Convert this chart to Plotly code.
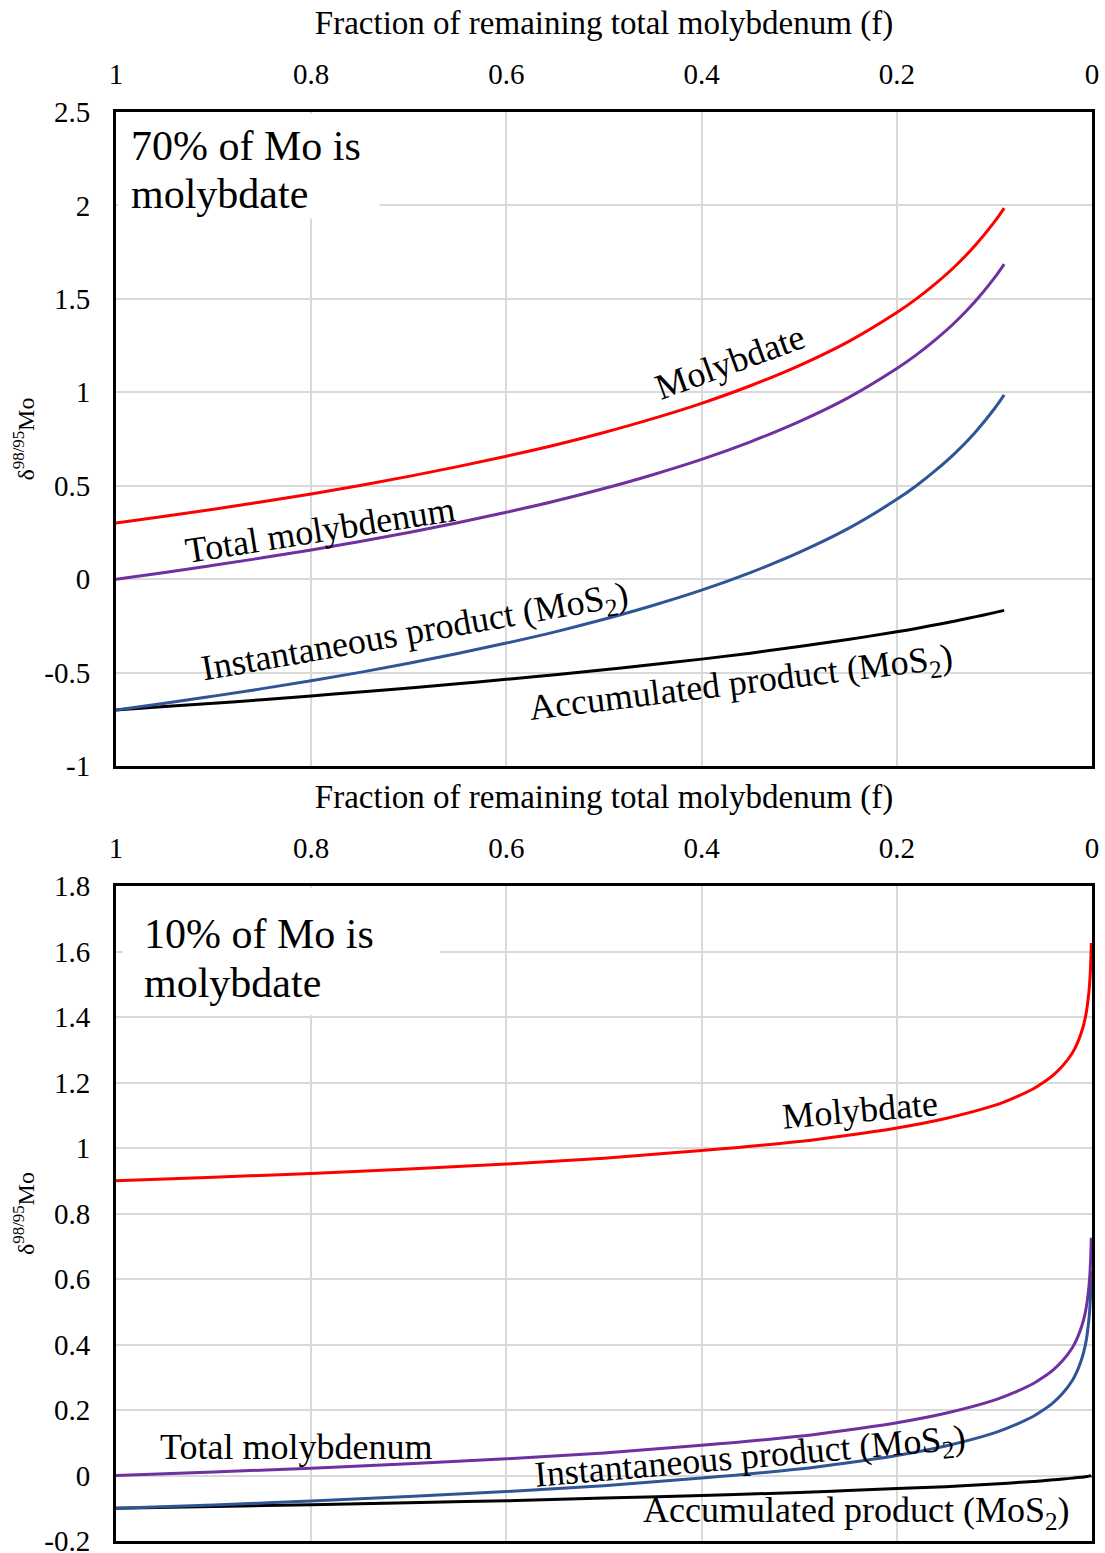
import plotly.graph_objects as go

# ---------------- data ----------------
# Upper panel: 70% of Mo present as molybdate
f_a = [1.0, 0.95, 0.9, 0.85, 0.8, 0.75, 0.7, 0.65, 0.6, 0.55, 0.5, 0.45, 0.4,
       0.35, 0.3, 0.25, 0.2, 0.18, 0.16, 0.14, 0.12, 0.1, 0.09]
molybdate_a = [0.300, 0.336, 0.374, 0.414, 0.456, 0.501, 0.550, 0.602, 0.658, 0.718,
               0.785, 0.859, 0.941, 1.035, 1.143, 1.270, 1.427, 1.500, 1.583, 1.676,
               1.784, 1.912, 1.986]
total_a = [0.000, 0.036, 0.074, 0.114, 0.156, 0.201, 0.250, 0.302, 0.358, 0.418,
           0.485, 0.559, 0.641, 0.735, 0.843, 0.970, 1.127, 1.200, 1.283, 1.376,
           1.484, 1.612, 1.686]
instant_a = [-0.700, -0.664, -0.626, -0.586, -0.544, -0.499, -0.450, -0.398, -0.342,
             -0.282, -0.215, -0.141, -0.059, 0.035, 0.143, 0.270, 0.427, 0.500, 0.583,
             0.676, 0.784, 0.912, 0.986]
accum_a = [-0.700, -0.682, -0.664, -0.645, -0.625, -0.604, -0.583, -0.560, -0.536,
           -0.512, -0.485, -0.457, -0.428, -0.396, -0.361, -0.323, -0.282, -0.264,
           -0.244, -0.224, -0.202, -0.179, -0.167]

# Lower panel: 10% of Mo present as molybdate
f_b = [1.0, 0.9, 0.8, 0.7, 0.6, 0.5, 0.4, 0.3, 0.25, 0.2, 0.15, 0.1, 0.08, 0.06,
       0.05, 0.04, 0.03, 0.02, 0.015, 0.01, 0.007, 0.005, 0.003, 0.002, 0.001, 0.0007]
molybdate_b = [0.900, 0.911, 0.922, 0.936, 0.951, 0.969, 0.992, 1.020, 1.039, 1.061,
               1.090, 1.130, 1.153, 1.181, 1.200, 1.222, 1.251, 1.291, 1.320, 1.361,
               1.396, 1.430, 1.481, 1.522, 1.591, 1.626]
total_b = [0.000, 0.011, 0.022, 0.036, 0.051, 0.069, 0.092, 0.120, 0.139, 0.161,
           0.190, 0.230, 0.253, 0.281, 0.300, 0.322, 0.351, 0.391, 0.420, 0.461,
           0.496, 0.530, 0.581, 0.622, 0.691, 0.726]
instant_b = [-0.100, -0.090, -0.078, -0.064, -0.049, -0.031, -0.008, 0.020, 0.039,
             0.061, 0.090, 0.130, 0.153, 0.181, 0.200, 0.222, 0.251, 0.291, 0.320,
             0.361, 0.396, 0.430, 0.481, 0.522, 0.591, 0.626]
accum_b = [-0.100, -0.095, -0.089, -0.083, -0.077, -0.069, -0.061, -0.052, -0.046,
           -0.040, -0.034, -0.026, -0.022, -0.018, -0.016, -0.013, -0.011, -0.008,
           -0.006, -0.005, -0.004, -0.003, -0.002, -0.001, -0.001, -0.0005]

# tick labels
x_ticks = [1, 0.8, 0.6, 0.4, 0.2, 0]
x_ticktext = ["1", "0.8", "0.6", "0.4", "0.2", "0"]
y_ticks_a = [2.5, 2, 1.5, 1, 0.5, 0, -0.5, -1]
y_ticktext_a = ["2.5", "2", "1.5", "1", "0.5", "0", "-0.5", "-1"]
y_ticks_b = [1.8, 1.6, 1.4, 1.2, 1, 0.8, 0.6, 0.4, 0.2, 0, -0.2]
y_ticktext_b = ["1.8", "1.6", "1.4", "1.2", "1", "0.8", "0.6", "0.4", "0.2", "0", "-0.2"]

x_title = "Fraction of remaining total molybdenum (f)"
y_title = "δ<sup>98/95</sup>Mo"

# ---------------- styling ----------------
FONT = "Liberation Serif, Times New Roman, serif"
RED, PURPLE, BLUE, BLACK = "#ff0000", "#7030a0", "#2f5597", "#000000"
GRID = "#d9d9d9"
W, H = 1105, 1553

fig = go.Figure()


def add_panel(f, moly, total, inst, acc, xa, ya):
    for ys, col in ((acc, BLACK), (inst, BLUE), (total, PURPLE), (moly, RED)):
        fig.add_trace(go.Scatter(x=f, y=ys, mode="lines", xaxis=xa, yaxis=ya,
                                 line=dict(color=col, width=3, shape="spline",
                                           smoothing=1.0),
                                 showlegend=False, hoverinfo="skip"))


add_panel(f_a, molybdate_a, total_a, instant_a, accum_a, "x", "y")
add_panel(f_b, molybdate_b, total_b, instant_b, accum_b, "x2", "y2")

x_dom = [116 / W, 1092 / W]
common_x = dict(range=[1, 0], side="top", tickmode="array", tickvals=x_ticks,
                ticktext=x_ticktext, showgrid=True, gridcolor=GRID, gridwidth=2,
                showline=True, linecolor=BLACK, linewidth=3, mirror=True,
                ticks="outside", ticklen=13, tickcolor="rgba(0,0,0,0)",
                zeroline=False, automargin=False, ticklabeloverflow="allow",
                tickfont=dict(family=FONT, size=29, color=BLACK),
                title=dict(text=x_title, font=dict(family=FONT, size=33, color=BLACK),
                           standoff=14),
                domain=x_dom)
common_y = dict(showgrid=True, gridcolor=GRID, gridwidth=2, showline=True,
                linecolor=BLACK, linewidth=3, mirror=True, ticks="outside",
                ticklen=17, tickcolor="rgba(0,0,0,0)", zeroline=False,
                automargin=False, ticklabeloverflow="allow",
                tickfont=dict(family=FONT, size=29, color=BLACK),
                title=dict(text=y_title, font=dict(family=FONT, size=24, color=BLACK),
                           standoff=3))

fig.update_layout(
    width=W, height=H, margin=dict(l=0, r=0, t=0, b=0, autoexpand=False),
    paper_bgcolor="white", plot_bgcolor="white",
    xaxis=dict(common_x, anchor="y"),
    yaxis=dict(common_y, anchor="x", range=[-1, 2.5], tickmode="array",
               tickvals=y_ticks_a, ticktext=y_ticktext_a,
               domain=[1 - 766 / H, 1 - 112 / H]),
    xaxis2=dict(common_x, anchor="y2"),
    yaxis2=dict(common_y, anchor="x2", range=[-0.2, 1.8], tickmode="array",
                tickvals=y_ticks_b, ticktext=y_ticktext_b,
                domain=[1 - 1541 / H, 1 - 886 / H]),
)

# white boxes behind the panel captions (above gridlines, below curves)
fig.add_shape(type="rect", xref="x", yref="y", x0=0.998, x1=0.73, y0=1.93, y1=2.49,
              fillcolor="white", line=dict(width=0), layer="between")
fig.add_shape(type="rect", xref="x2", yref="y2", x0=0.993, x1=0.668, y0=1.405, y1=1.795,
              fillcolor="white", line=dict(width=0), layer="between")


def caption(text, x, y, xref, yref, size=42):
    fig.add_annotation(text=text, x=x, y=y, xref=xref, yref=yref, showarrow=False,
                       xanchor="left", yanchor="middle",
                       font=dict(family=FONT, size=size, color=BLACK))


# panel captions (pixel positions converted to paper fractions)
caption("70% of Mo is", 129 / W, 1 - 146 / H, "paper", "paper")
caption("molybdate", 129 / W, 1 - 194 / H, "paper", "paper")
caption("10% of Mo is", 142 / W, 1 - 934 / H, "paper", "paper")
caption("molybdate", 142 / W, 1 - 983 / H, "paper", "paper")


def curve_label(text, x, y, angle, xref, yref):
    fig.add_annotation(text=text, x=x, y=y, xref=xref, yref=yref, showarrow=False,
                       textangle=angle, xanchor="center", yanchor="middle",
                       font=dict(family=FONT, size=36, color=BLACK))


curve_label("Molybdate", 0.371, 1.162, -20, "x", "y")
curve_label("Total molybdenum", 0.791, 0.264, -9, "x", "y")
curve_label("Instantaneous product (MoS<sub>2</sub>)", 0.693, -0.293, -10, "x", "y")
curve_label("Accumulated product (MoS<sub>2</sub>)", 0.359, -0.566, -7, "x", "y")

curve_label("Molybdate", 0.238, 1.116, -5, "x2", "y2")
curve_label("Total molybdenum", 0.816, 0.087, 0, "x2", "y2")
curve_label("Instantaneous product (MoS<sub>2</sub>)", 0.350, 0.053, -5, "x2", "y2")
curve_label("Accumulated product (MoS<sub>2</sub>)", 0.241, -0.114, 0, "x2", "y2")

fig.write_html("out.html")
